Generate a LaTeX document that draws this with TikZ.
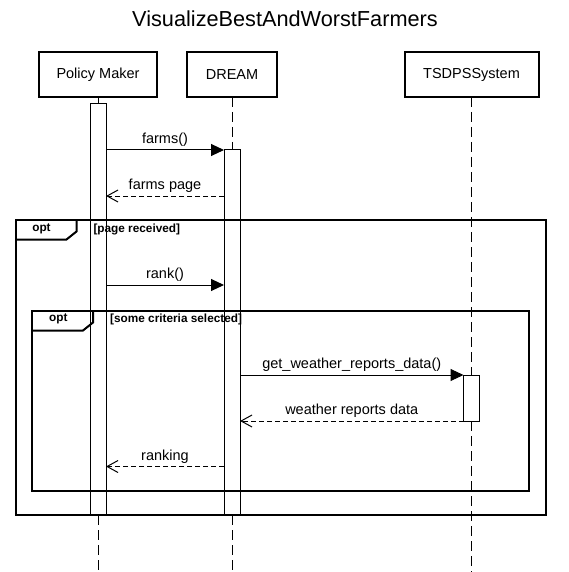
\documentclass[tikz,border=0pt]{standalone}
\usepackage{fontspec}
\setmainfont{Liberation Sans}
\usetikzlibrary{arrows.meta}
\tikzset{
	actor/.style={draw,line width=2pt,fill=white,minimum height=45pt,inner sep=0pt,outer sep=0pt,font=\fontsize{14.5}{17}\selectfont},
	act/.style={draw,line width=1pt,fill=white,minimum width=16pt,inner sep=0pt,outer sep=0pt},
	life/.style={line width=1pt,dash pattern=on 10pt off 5pt},
	call/.style={line width=1pt,-{Triangle[length=13pt,width=12pt]}},
	reply/.style={line width=1pt,dash pattern=on 5pt off 3pt,-{Straight Barb[length=11pt,width=12pt,line width=1pt]}},
	optframe/.style={line width=2pt},
	msg/.style={anchor=base,yshift=6.5pt,inner sep=0pt,font=\fontsize{14.5}{17}\selectfont},
	tablabel/.style={inner sep=0pt,font=\bfseries\fontsize{11.8}{14}\selectfont},
	guard/.style={anchor=west,inner sep=0pt,font=\bfseries\fontsize{11.8}{14}\selectfont}
}

\begin{document}
\begin{tikzpicture}[x=1pt,y=-1pt]
	\useasboundingbox (0,0) rectangle (569,572);
	%TITLE
	\node[font=\fontsize{21.7}{26}\selectfont] (title) at (285,18.5) {VisualizeBestAndWorstFarmers};
	
	%PARTICIPANTS
	\node[actor,minimum width=118pt] (pm) at (98,74.5) {Policy Maker};
	\node[actor,minimum width=90pt] (dream) at (232,74.5) {DREAM};
	\node[actor,minimum width=134pt] (ts) at (471.5,74.5) {TSDPSSystem};
	\coordinate (pmend) at (98,572);
	\coordinate (dreamend) at (232,572);
	\coordinate (tsend) at (471.5,572);
	%
	\node[act,minimum height=411pt] (pmact) at (98,309.5) {};
	\node[act,minimum height=365pt] (dreamact) at (232,332.5) {};
	\node[act,minimum height=46pt] (tsact) at (471.5,398) {};
	
	%LIFELINES
	\draw[life] (pm.south) -- (pmact.north);
	\draw[life] (pmact.south) -- (pmend);
	\draw[life] (dream.south) -- (dreamact.north);
	\draw[life] (dreamact.south) -- (dreamend);
	\draw[life] (ts.south) -- (tsact.north);
	\draw[life] (tsact.south) -- (tsend);
	
	%FRAMES
	\draw[optframe] (16,219.5) rectangle (545.5,515);
	\draw[optframe] (16,239.5) -- (66.5,239.5) -- (76.5,231.5) -- (76.5,219.5);
	\node[tablabel] (opt1) at (41.5,229.3) {opt};
	\node[guard] (guard1) at (93.3,229.3) {[page received]};
	%
	\draw[optframe] (32,310.5) rectangle (529,491);
	\draw[optframe] (32,330.5) -- (83,330.5) -- (93,322.5) -- (93,310.5);
	\node[tablabel] (opt2) at (58.3,319) {opt};
	\node[guard] (guard2) at (110,319) {[some criteria selected]};
	
	%MESSAGES
	\coordinate (y2) at (0,196);
	\coordinate (y3) at (0,285);
	\coordinate (y6) at (0,466.5);
	\draw[call] (pmact.east |- dreamact.north west) -- node[msg] {farms()} (dreamact.north west);
	\draw[reply] (dreamact.west |- y2) -- node[msg] {farms page} (pmact.east |- y2);
	\draw[call] (pmact.east |- y3) -- node[msg] {rank()} (dreamact.west |- y3);
	\draw[call] (dreamact.east |- tsact.north west) -- node[msg] {get\_weather\_reports\_data()} (tsact.north west);
	\draw[reply] (tsact.south west) -- node[msg] {weather reports data} (dreamact.east |- tsact.south west);
	\draw[reply] (dreamact.west |- y6) -- node[msg] {ranking} (pmact.east |- y6);
\end{tikzpicture}
\end{document}
